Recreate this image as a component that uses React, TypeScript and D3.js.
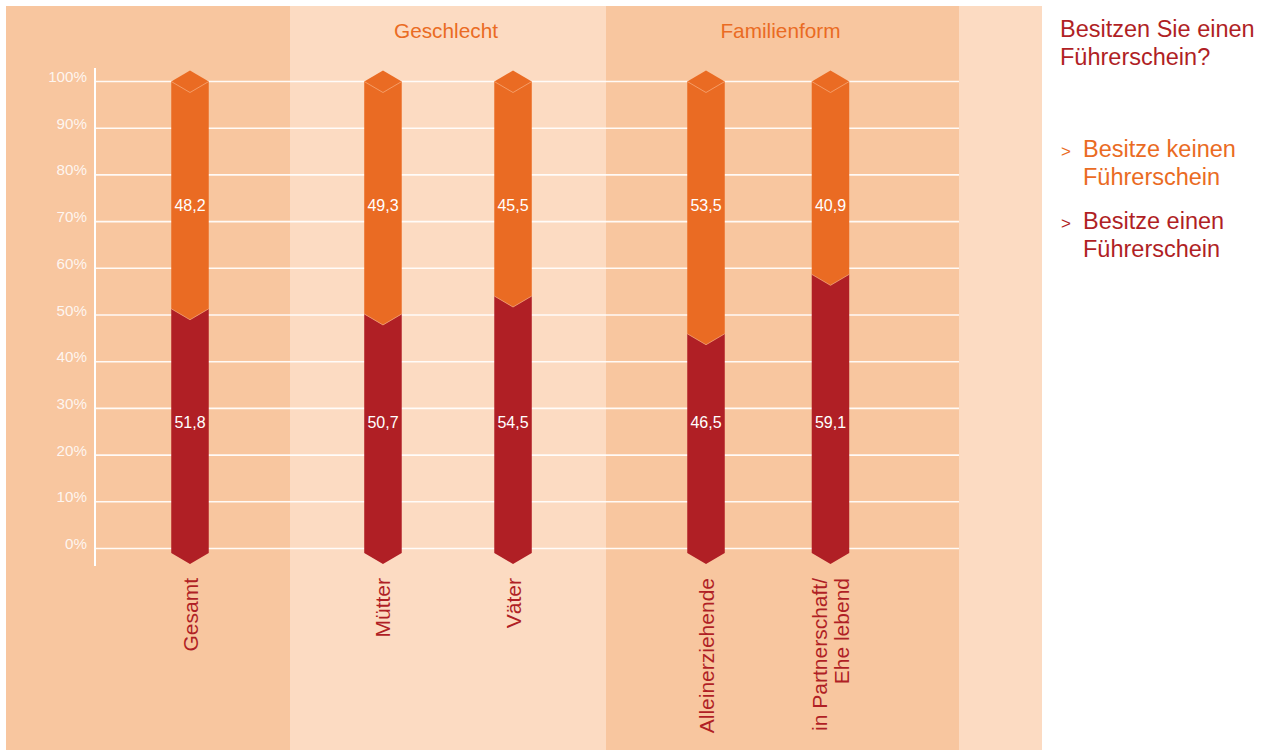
import React from "react";
import * as d3 from "d3";

const categories = ["Gesamt", "Mütter", "Väter", "Alleinerziehende", "in Partnerschaft/\nEhe lebend"];
const ownLicense = [51.8, 50.7, 54.5, 46.5, 59.1];
const noLicense = [48.2, 49.3, 45.5, 53.5, 40.9];
const yTicks = [0, 10, 20, 30, 40, 50, 60, 70, 80, 90, 100];
const groupTitles = ["", "Geschlecht", "Familienform", ""];
const groupMembers = [[0], [1, 2], [3, 4], []];
const legendTitle = ["Besitzen Sie einen", "Führerschein?"];
const legendItems = [
  ["Besitze keinen", "Führerschein"],
  ["Besitze einen", "Führerschein"],
];

const W = 1277;
const H = 751;
const FONT = "'Liberation Sans', Arial, Helvetica, sans-serif";
const DARK = "#f8c69f";
const LIGHT = "#fcdbc2";
const ORANGE = "#ea6b23";
const RED = "#b01f25";
const SEAM = "#f6a877";

// panel layout (left edge, right edge, point padding, align)
const panels = [
  { x0: 6, x1: 290, range: [90, 290], pad: 0, align: 0.5, fill: DARK },
  { x0: 290, x1: 606, range: [290, 606], pad: 0.715, align: 0.5, fill: LIGHT },
  { x0: 606, x1: 959, range: [606, 959], pad: 0.918, align: 0.4376, fill: DARK },
  { x0: 959, x1: 1042, range: [959, 1042], pad: 0.5, align: 0.5, fill: LIGHT },
];

const BAR_W = 37.5;
const CHEV = 11;

export default function App() {
  const y = d3.scaleLinear().domain([0, 100]).range([548.5, 81.5]);
  const yb = d3.scaleLinear().domain([0, 100]).range([553, 81.5]);

  const xPos: number[] = [];
  panels.forEach((p, gi) => {
    const members = groupMembers[gi];
    if (!members.length) return;
    const sc = d3
      .scalePoint<number>()
      .domain(members)
      .range(p.range as [number, number])
      .padding(p.pad)
      .align(p.align);
    members.forEach((m) => (xPos[m] = sc(m) as number));
  });

  const gridX0 = 95;
  const gridX1 = 959;

  return (
    <svg
      width={W}
      height={H}
      style={{ position: "absolute", left: 0, top: 0, background: "#fff" }}
      fontFamily={FONT}
    >
      {panels.map((p, i) => (
        <rect key={"p" + i} x={p.x0} y={6} width={p.x1 - p.x0} height={744} fill={p.fill} />
      ))}
      {panels.map((p, i) =>
        groupTitles[i] ? (
          <text
            key={"gt" + i}
            x={(p.x0 + p.x1) / 2 - 2}
            y={38}
            textAnchor="middle"
            fontSize={20.8}
            fill={ORANGE}
          >
            {groupTitles[i]}
          </text>
        ) : null
      )}
      {/* grid */}
      {yTicks.map((t) => (
        <g key={"t" + t}>
          <line x1={gridX0} x2={gridX1} y1={y(t)} y2={y(t)} stroke="#fff" strokeWidth={1.6} strokeOpacity={0.9} />
          <text x={87} y={y(t) + 0.5} textAnchor="end" fontSize={15.2} fill="#fff" fillOpacity={0.85}>
            {t + "%"}
          </text>
        </g>
      ))}
      <line x1={gridX0} x2={gridX0} y1={68} y2={566} stroke="#fff" strokeWidth={2} />
      {/* bars */}
      {categories.map((c, i) => {
        const cx = xPos[i];
        const L = cx - BAR_W / 2;
        const R = cx + BAR_W / 2;
        const yB = yb(0);
        const yM = yb(ownLicense[i]);
        const yT = yb(ownLicense[i] + noLicense[i]);
        const redPts = [
          [L, yM], [cx, yM + CHEV], [R, yM], [R, yB], [cx, yB + CHEV], [L, yB],
        ];
        const orPts = [
          [L, yT], [cx, yT - CHEV], [R, yT], [R, yM], [cx, yM + CHEV], [L, yM],
        ];
        const lines = c.split("\n");
        const n = lines.length;
        return (
          <g key={"b" + i}>
            <polygon points={orPts.map((p) => p.join(",")).join(" ")} fill={ORANGE} />
            <polygon points={redPts.map((p) => p.join(",")).join(" ")} fill={RED} />
            <polyline
              points={[[L, yT], [cx, yT + CHEV], [R, yT]].map((p) => p.join(",")).join(" ")}
              fill="none"
              stroke={SEAM}
              strokeWidth={0.8}
            />
            <polyline
              points={[[L, yM], [cx, yM + CHEV], [R, yM]].map((p) => p.join(",")).join(" ")}
              fill="none"
              stroke={SEAM}
              strokeWidth={0.7}
            />
            <text x={cx} y={y(73.5)} dy="0.35em" textAnchor="middle" fontSize={16} fill="#fff">
              {noLicense[i].toFixed(1).replace(".", ",")}
            </text>
            <text x={cx} y={y(27)} dy="0.35em" textAnchor="middle" fontSize={16} fill="#fff">
              {ownLicense[i].toFixed(1).replace(".", ",")}
            </text>
            {lines.map((ln, li) => (
              <text
                key={li}
                transform={`translate(${cx + 7.5 + (li - (n - 1) / 2) * 22},578) rotate(-90)`}
                textAnchor="end"
                fontSize={21}
                fill={RED}
              >
                {ln}
              </text>
            ))}
          </g>
        );
      })}
      {/* legend */}
      {legendTitle.map((t, i) => (
        <text key={"lt" + i} x={1060} y={37 + i * 28} fontSize={23.5} fill={RED}>
          {t}
        </text>
      ))}
      {legendItems.map((item, i) => (
        <g key={"li" + i}>
          <text x={1061} y={157 + i * 72} fontSize={17} fill={i === 0 ? ORANGE : RED}>
            {">"}
          </text>
          {item.map((t, j) => (
            <text key={j} x={1083} y={157 + i * 72 + j * 28} fontSize={23.5} fill={i === 0 ? ORANGE : RED}>
              {t}
            </text>
          ))}
        </g>
      ))}
    </svg>
  );
}
